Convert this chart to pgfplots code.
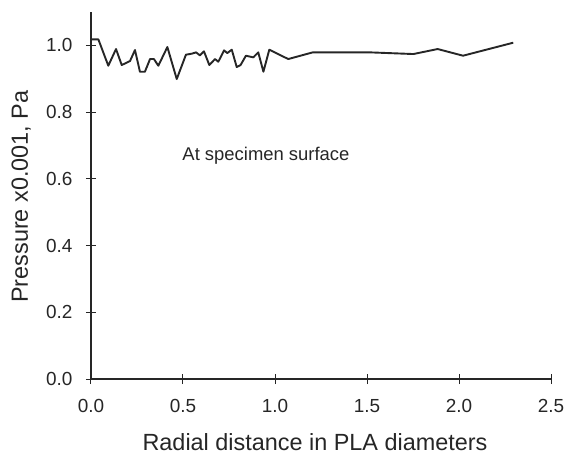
\documentclass[border=0pt]{standalone}
\usepackage{fontspec}
\setmainfont{Liberation Sans}
\usepackage{pgfplots}
\pgfplotsset{compat=1.18}

\begin{document}
\begin{tikzpicture}
\path[use as bounding box] (-91bp,-79bp) rectangle (475bp,379bp);
\begin{axis}[
  at={(0,0)}, anchor=south west,
  scale only axis, width=460bp, height=367bp,
  xmin=0, xmax=2.5, ymin=0, ymax=1.1,
  axis lines=left,
  axis line style={-, line width=1.2bp, black!85},
  xtick={0,0.5,1.0,1.5,2.0,2.5},
  ytick={0,0.2,0.4,0.6,0.8,1.0},
  tick align=center,
  major tick length=10bp,
  tick style={line width=1bp, black!85},
  /pgf/number format/assume math mode=true,
  /pgf/number format/.cd, fixed, fixed zerofill, precision=1, /tikz/.cd,
  tick label style={font=\fontsize{19}{19}\selectfont, black!85},
  xticklabel style={yshift=-12bp},
  yticklabel style={xshift=-10bp},
  xlabel={Radial distance in PLA diameters},
  ylabel={Pressure x0.001, Pa},
  label style={font=\fontsize{23.5}{23.5}\selectfont, black!85, inner sep=0pt},
  xlabel style={at={(axis description cs:0.5,0)}, anchor=base, yshift=-71bp, xshift=-6bp},
  ylabel style={at={(axis description cs:-0.137,0.497)}, anchor=base},
  clip=false,
]
\addplot[line width=1.9bp, black!85, line join=round] coordinates {
  (0.000,1.018) (0.040,1.018) (0.094,0.939) (0.136,0.989) (0.167,0.941)
  (0.212,0.953) (0.239,0.986) (0.266,0.921) (0.293,0.921) (0.321,0.959)
  (0.342,0.959) (0.366,0.939) (0.415,0.995) (0.466,0.899) (0.516,0.972)
  (0.547,0.975) (0.571,0.979) (0.592,0.970) (0.614,0.982) (0.643,0.941)
  (0.674,0.959) (0.692,0.951) (0.723,0.985) (0.741,0.977) (0.765,0.987)
  (0.792,0.935) (0.813,0.941) (0.842,0.969) (0.882,0.964) (0.909,0.979)
  (0.937,0.921) (0.969,0.987) (1.072,0.959) (1.205,0.979) (1.516,0.979)
  (1.752,0.974) (1.884,0.989) (2.022,0.969) (2.295,1.008)
};
\node[anchor=west, font=\fontsize{18.5}{18.5}\selectfont, text=black!85]
  at (axis cs:0.478,0.67) {At specimen surface};
\end{axis}
\end{tikzpicture}
\end{document}
